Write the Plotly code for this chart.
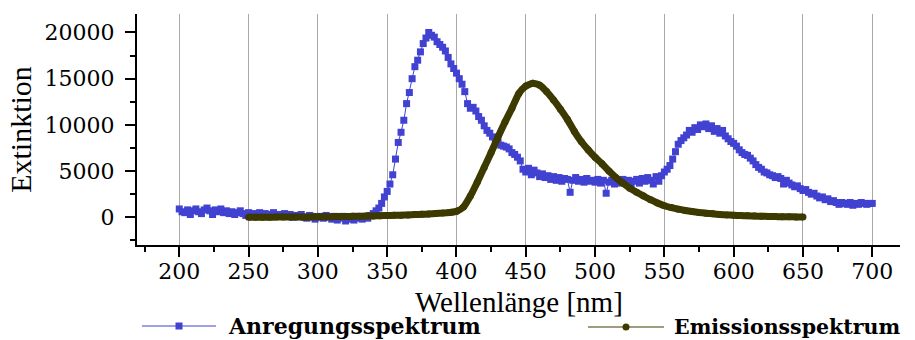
import plotly.graph_objects as go

# Excitation spectrum (Anregungsspektrum), 2 nm steps from 200 to 700 nm
anr_nm = list(range(200, 701, 2))
anr_ext = [
    900, 600, 500, 800, 300, 700, 900, 600, 400, 800,
    1000, 700, 300, 800, 600, 900, 500, 700, 400, 600,
    300, 500, 700, 400, 200, 500,
    300, 400, 200, 500, 300, 400, 100, 300, 500, 200,
    300, 100, 400, 200, 300, 0, 200, 100, 300, 0,
    -100, 200, 100, -200, 0,
    100, -100, 200, 0, -200, 100, -300, -100, 100, -400,
    -200, 0, -300, -100, 0, -200, 100, -100, 200, 400,
    700, 1000, 1500, 2200, 2800, 3600, 4600, 6300, 8100, 9200,
    10500, 12300, 13500, 15000, 16300, 17000, 17900, 18800, 19400, 20000,
    19700, 19500, 19000, 18700, 18400, 18000, 17300, 16600, 16100, 15600,
    15000, 14400, 13600, 12300, 11800, 11900, 11500, 10900, 10500, 9900,
    9400, 9100, 8700, 8500, 8100, 7800, 7700, 7600, 7400, 7000,
    6800, 6500, 6100, 5200, 4900, 5300, 4600, 5100, 4800, 4400,
    4700, 4300, 4500, 4100, 4400, 4000, 4300, 3900, 4200, 4100,
    2700, 4000, 4300, 3900, 4100, 3800, 4200, 3900, 4000, 3800,
    4100, 3700, 4000, 2600, 3800, 4000, 3600, 3900, 3700, 4100,
    3800, 4000, 3500, 3900, 4100, 3700, 4200, 3900, 4300, 4000,
    3600, 4400, 3900, 4500, 4900, 5200, 5600, 6300, 7100, 7900,
    8300, 8600, 8900, 9400, 9200, 9700, 9500, 10000, 9800, 10100,
    9600, 9900, 9300, 9600, 9100, 9400, 8800, 8500, 8200, 8000,
    7700, 7300, 7000, 6800, 6700, 6400, 6100, 5700, 5400, 5200,
    4900, 4800, 4600, 4500, 4300, 4400, 4200, 3600, 4000, 3700,
    3500, 3300, 3400, 3100, 2900, 3000, 2700, 2500, 2600, 2300,
    2100, 2200, 1900, 2000, 1700, 1800, 1600, 1400, 1600, 1500,
    1400, 1600, 1300, 1500, 1400, 1600, 1500, 1400, 1500, 1500,
]

# Emission spectrum (Emissionsspektrum), 5 nm steps from 250 to 650 nm
emi_nm = list(range(250, 651, 5))
emi_ext = [
    0, 0, 10, 10, 20, 20, 30, 30, 40, 40,
    50, 60, 70, 80, 90, 100, 110, 130, 150, 170,
    190, 210, 230, 260, 290, 320, 360, 400, 450, 520,
    640, 1100, 2300, 3800, 5400, 7000, 8700, 10300, 11800, 13400,
    14200, 14500, 14300, 13600, 12700, 11700, 10600, 9300, 8200, 7300,
    6500, 5800, 5000, 4300, 3700, 3150, 2700, 2300, 1900, 1550,
    1250, 1050, 880, 740, 620, 520, 440, 370, 310, 260,
    220, 185, 155, 130, 110, 90, 75, 60, 50, 40,
    30,
]

x_ticks = [200, 250, 300, 350, 400, 450, 500, 550, 600, 650, 700]
y_ticks = [0, 5000, 10000, 15000, 20000]
y_labels = ["0", "5000", "10000", "15000", "20000"]

BLUE = "#4141D2"
OLIVE = "#3C3A00"
SERIF = "Liberation Serif, Times New Roman, serif"
WIDE_SERIF = "DejaVu Serif, serif"

fig = go.Figure()

fig.add_trace(go.Scatter(
    x=anr_nm, y=anr_ext, mode="lines+markers", name="Anregungsspektrum",
    line=dict(color=BLUE, width=1),
    marker=dict(symbol="square", size=7, color=BLUE),
    showlegend=False,
))
fig.add_trace(go.Scatter(
    x=emi_nm, y=emi_ext, mode="lines+markers", name="Emissionsspektrum",
    line=dict(color=OLIVE, width=7, shape="spline", smoothing=0.5),
    marker=dict(symbol="circle", size=7, color=OLIVE),
    showlegend=False,
))

W, H = 915, 340
ML, MR, MT, MB = 137, 15, 14, 95
PW, PH = W - ML - MR, H - MT - MB


def px_x(p):
    return (p - ML) / PW


def px_y(p):
    return (H - MB - p) / PH


# Legend drawn below the axis: sample line, marker and bold label
legend = [
    ("Anregungsspektrum", BLUE, "rect", 142, 216, 179, 226, 326, 22),
    ("Emissionsspektrum", OLIVE, "circle", 588, 664, 626, 672, 327, 20.5),
]
shapes = []
annotations = []
for label, col, kind, lx0, lx1, mx, tx, ly, fs in legend:
    shapes.append(dict(type="line", xref="paper", yref="paper",
                       x0=px_x(lx0), x1=px_x(lx1), y0=px_y(ly), y1=px_y(ly),
                       line=dict(color=col, width=1)))
    shapes.append(dict(type=kind, xref="paper", yref="paper",
                       xsizemode="pixel", ysizemode="pixel",
                       xanchor=px_x(mx), yanchor=px_y(ly),
                       x0=-3.5, x1=3.5, y0=-3.5, y1=3.5,
                       fillcolor=col, line=dict(color=col, width=0)))
    annotations.append(dict(text=f"<b>{label}</b>", xref="paper", yref="paper",
                            x=px_x(tx), y=px_y(ly), xanchor="left", yanchor="middle",
                            showarrow=False,
                            font=dict(family=WIDE_SERIF, size=fs, color="black")))

# x-axis title, centred under the plot area
annotations.append(dict(text="Wellenlänge [nm]", xref="paper", yref="paper",
                        x=0.5, y=px_y(302), xanchor="center", yanchor="middle",
                        showarrow=False,
                        font=dict(family=SERIF, size=29, color="black")))

fig.update_layout(
    width=W, height=H,
    margin=dict(l=ML, r=MR, t=MT, b=MB),
    paper_bgcolor="white", plot_bgcolor="white",
    font=dict(family=SERIF, color="black"),
    shapes=shapes, annotations=annotations,
    showlegend=False,
)
fig.update_xaxes(
    range=[169.5, 720], tickvals=x_ticks,
    ticks="outside", ticklen=10, tickwidth=2, tickcolor="black",
    minor=dict(dtick=25, tick0=175, ticks="outside", ticklen=5, tickwidth=2,
               tickcolor="black", showgrid=False),
    showline=True, linecolor="black", linewidth=2,
    showgrid=True, gridcolor="#A8A8A8", gridwidth=1,
    zeroline=False,
    tickfont=dict(family=WIDE_SERIF, size=22, color="black"),
    ticklabelstandoff=-4,
)
fig.update_yaxes(
    range=[-3000, 22000], tickvals=y_ticks, ticktext=y_labels,
    ticks="outside", ticklen=10, tickwidth=2, tickcolor="black",
    minor=dict(dtick=2500, tick0=0, ticks="outside", ticklen=5, tickwidth=2,
               tickcolor="black", showgrid=False),
    showline=True, linecolor="black", linewidth=2,
    showgrid=False, zeroline=False,
    tickfont=dict(family=WIDE_SERIF, size=22, color="black"),
    ticklabelstandoff=6,
    title=dict(text="Extinktion", font=dict(family=SERIF, size=30), standoff=4),
)

fig.write_html("out.html")
